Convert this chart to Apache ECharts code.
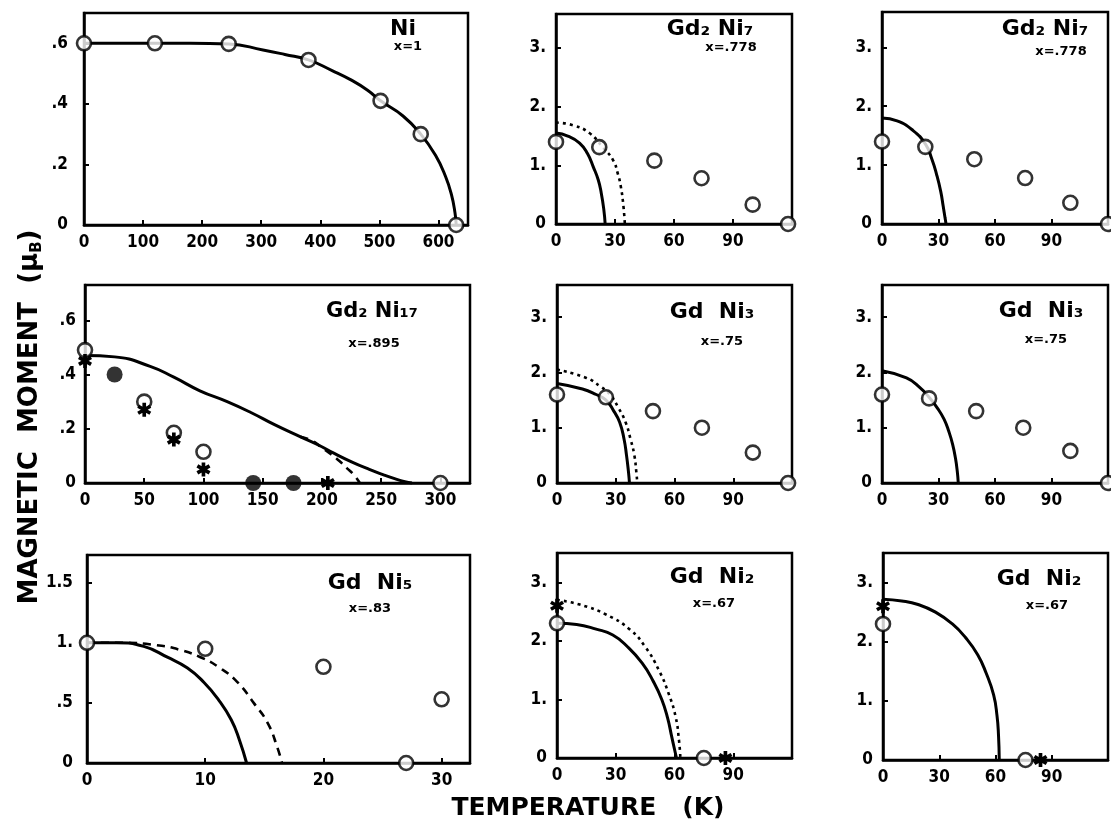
<!DOCTYPE html>
<html>
<head>
<meta charset="utf-8">
<script src="https://cdn.jsdelivr.net/npm/echarts@6/dist/echarts.min.js"></script>
<style>
  html, body { margin: 0; padding: 0; background: #fff; }
  #chart { width: 1111px; height: 824px; }
</style>
</head>
<body>
<div id="chart"></div>
<script>
// ---- tick labels ----
const niTempTicks = [0, 100, 200, 300, 400, 500, 600]
const niMomentTicks = [0, 0.2, 0.4, 0.6]
const niMomentLabels = ['0', '.2', '.4', '.6']
const lowTempTicks = [0, 30, 60, 90]
const bigMomentTicks = [0, 1, 2, 3]
const bigMomentLabels = ['0', '1.', '2.', '3.']
const gd2ni17TempTicks = [0, 50, 100, 150, 200, 250, 300]
const gdni5TempTicks = [0, 10, 20, 30]
const gdni5MomentTicks = [0, 0.5, 1, 1.5]
const gdni5MomentLabels = ['0', '.5', '1.', '1.5']

// ---- Ni, x=1 ----
const niOpen = [[0, 0.6], [120, 0.6], [245, 0.598], [380, 0.545], [502, 0.41], [570, 0.3], [630, 0]]
const niSolid = [[0, 0.6], [60, 0.6], [120, 0.6], [180, 0.6], [245, 0.598], [303, 0.578], [340, 0.563], [380, 0.545],
  [420, 0.51], [451, 0.48], [480, 0.445], [502, 0.41], [540, 0.36], [570, 0.3], [595, 0.23], [612, 0.16],
  [622, 0.1], [628, 0.04], [630, 0]]

// ---- Gd2Ni7, x=.778 (middle) ----
const gd2ni7aOpen = [[0, 1.4], [22, 1.31], [50, 1.08], [74, 0.78], [100, 0.33], [118, 0]]
const gd2ni7aSolid = [[0, 1.55], [6, 1.5], [12, 1.38], [16, 1.2], [19, 0.97], [21.5, 0.75], [23, 0.53], [24.3, 0.25], [25, 0]]
const gd2ni7aDotted = [[0, 1.73], [9, 1.68], [17, 1.55], [24, 1.3], [29, 1.09], [31.5, 0.85], [33, 0.63], [34.3, 0.3], [35, 0]]

// ---- Gd2Ni7, x=.778 (right) ----
const gd2ni7bOpen = [[0, 1.4], [23, 1.31], [49, 1.1], [76, 0.78], [100, 0.36], [120, 0]]
const gd2ni7bSolid = [[0, 1.8], [8, 1.75], [16, 1.6], [23, 1.36], [26.5, 1.1], [29, 0.84], [31.2, 0.55], [32.5, 0.3], [33.5, 0.1], [34, 0]]

// ---- Gd2Ni17, x=.895 ----
const gd2ni17Open = [[0, 0.49], [50, 0.3], [75, 0.185], [100, 0.115], [300, 0]]
const gd2ni17Filled = [[25, 0.4], [142, 0], [176, 0]]
const gd2ni17Star = [[0, 0.45], [50, 0.27], [75, 0.16], [100, 0.05], [205, 0]]
const gd2ni17Solid = [[0, 0.47], [25, 0.465], [55, 0.43], [75, 0.39], [97, 0.34], [120, 0.3], [140, 0.26], [160, 0.215],
  [182, 0.17], [197, 0.14], [210, 0.11], [225, 0.078], [240, 0.05], [252, 0.03], [262, 0.015], [270, 0.005], [276, 0]]
const gd2ni17Dashed = [[182, 0.17], [192, 0.155], [200, 0.13], [208, 0.105], [215, 0.08], [221, 0.055], [227, 0.03], [232, 0]]

// ---- GdNi3, x=.75 (middle) ----
const gdni3aOpen = [[0, 1.6], [25, 1.55], [49, 1.3], [74, 1.0], [100, 0.55], [118, 0]]
const gdni3aSolid = [[0, 1.8], [13, 1.7], [20, 1.6], [25, 1.5], [29, 1.3], [32, 1.1], [34.2, 0.8], [35.5, 0.5], [36.5, 0.2], [37, 0]]
const gdni3aDotted = [[0, 2.05], [15, 1.9], [22, 1.75], [27, 1.6], [31.5, 1.35], [35, 1.1], [37.5, 0.8], [39.5, 0.5], [40.5, 0.2], [41, 0]]

// ---- GdNi3, x=.75 (right) ----
const gdni3bOpen = [[0, 1.6], [25, 1.53], [50, 1.3], [75, 1.0], [100, 0.58], [120, 0]]
const gdni3bSolid = [[0, 2.03], [13, 1.9], [20, 1.73], [25, 1.55], [29.5, 1.35], [33, 1.15], [35.5, 0.93], [37.5, 0.7], [39, 0.45], [40, 0.2], [40.5, 0]]

// ---- GdNi5, x=.83 ----
const gdni5Open = [[0, 1.0], [10, 0.95], [20, 0.8], [30, 0.53], [27, 0]]
const gdni5Solid = [[0, 1.0], [2.5, 1.0], [4.8, 0.97], [6.8, 0.88], [8.5, 0.79], [9.9, 0.67], [11.1, 0.53], [12.2, 0.36], [12.9, 0.19], [13.5, 0]]
const gdni5Dashed = [[0, 1.0], [3, 1.0], [5.9, 0.98], [7.9, 0.94], [9.6, 0.88], [11.1, 0.8], [12.7, 0.675], [14.1, 0.5], [15.3, 0.33], [16.1, 0.13], [16.5, 0]]

// ---- GdNi2, x=.67 (middle) ----
const gdni2aOpen = [[0, 2.3], [75, 0]]
const gdni2aStar = [[0, 2.6], [86, 0]]
const gdni2aSolid = [[0, 2.3], [10, 2.28], [20, 2.2], [28.5, 2.1], [36, 1.9], [43.5, 1.62], [49, 1.32], [53.5, 1.0], [56.5, 0.68], [58.6, 0.36], [60, 0.15], [61, 0]]
const gdni2aDotted = [[0, 2.7], [11.6, 2.62], [25, 2.45], [37, 2.2], [45, 1.9], [52, 1.5], [57, 1.1], [60.6, 0.7], [62.3, 0.3], [63, 0]]

// ---- GdNi2, x=.67 (right) ----
const gdni2bOpen = [[0, 2.3], [76, 0]]
const gdni2bStar = [[0, 2.6], [84, 0]]
const gdni2bSolid = [[0, 2.72], [10, 2.69], [18.7, 2.63], [28, 2.5], [37, 2.3], [44, 2.07], [50.5, 1.78], [55, 1.47], [59, 1.1], [60.8, 0.75], [61.6, 0.42], [62, 0]]

const FONT = '"Liberation Sans Narrow", "DejaVu Sans Condensed", "DejaVu Sans", sans-serif'
// six-armed asterisk
const STAR = 'path://M-2.6,-10 L2.6,-10 L2.6,10 L-2.6,10 Z M7.36,-7.25 L9.96,-2.75 L-7.36,7.25 L-9.96,2.75 Z M9.96,2.75 L7.36,7.25 L-9.96,-2.75 L-7.36,-7.25 Z'

// panel layout (px) and axes
const panels = [
  { grid: { left: 84, top: 13, width: 384, height: 212 }, xMax: 650, xInt: 100, xTicks: niTempTicks,
    yMax: 0.7, yInt: 0.2, yTicks: niMomentTicks, yLabels: niMomentLabels, yMargin: 16 },
  { grid: { left: 556, top: 14, width: 236, height: 210 }, xMax: 120, xInt: 30, xTicks: lowTempTicks,
    yMax: 3.58, yInt: 1, yTicks: bigMomentTicks, yLabels: bigMomentLabels, yMargin: 10 },
  { grid: { left: 882, top: 12, width: 238, height: 212 }, xMax: 120, xInt: 30, xTicks: lowTempTicks,
    yMax: 3.6, yInt: 1, yTicks: bigMomentTicks, yLabels: bigMomentLabels, yMargin: 10 },
  { grid: { left: 85, top: 285, width: 385, height: 198 }, xMax: 325, xInt: 50, xTicks: gd2ni17TempTicks,
    yMax: 0.73, yInt: 0.2, yTicks: niMomentTicks, yLabels: niMomentLabels, yMargin: 9 },
  { grid: { left: 557, top: 285, width: 235, height: 198 }, xMax: 120, xInt: 30, xTicks: lowTempTicks,
    yMax: 3.58, yInt: 1, yTicks: bigMomentTicks, yLabels: bigMomentLabels, yMargin: 10 },
  { grid: { left: 882, top: 285, width: 238, height: 198 }, xMax: 120, xInt: 30, xTicks: lowTempTicks,
    yMax: 3.58, yInt: 1, yTicks: bigMomentTicks, yLabels: bigMomentLabels, yMargin: 10 },
  { grid: { left: 87, top: 555, width: 383, height: 208 }, xMax: 32.4, xInt: 10, xTicks: gdni5TempTicks,
    yMax: 1.73, yInt: 0.5, yTicks: gdni5MomentTicks, yLabels: gdni5MomentLabels, yMargin: 14 },
  { grid: { left: 557, top: 553, width: 235, height: 205 }, xMax: 120, xInt: 30, xTicks: lowTempTicks,
    yMax: 3.5, yInt: 1, yTicks: bigMomentTicks, yLabels: bigMomentLabels, yMargin: 10 },
  { grid: { left: 883, top: 553, width: 237, height: 207 }, xMax: 120, xInt: 30, xTicks: lowTempTicks,
    yMax: 3.5, yInt: 1, yTicks: bigMomentTicks, yLabels: bigMomentLabels, yMargin: 10 }
]

const pickLabel = (ticks, labels) => v => {
  const i = ticks.findIndex(t => Math.abs(t - v) < 1e-6)
  return i < 0 ? '' : labels[i]
}

const axisBase = {
  type: 'value',
  min: 0,
  axisLine: { show: true, onZero: false, lineStyle: { color: '#000', width: 2.5 } },
  axisTick: { show: true, inside: true, length: 5, lineStyle: { color: '#000', width: 2 } },
  splitLine: { show: false }
}

const grids = panels.map(p => ({ ...p.grid, show: true, borderColor: '#000', borderWidth: 2.5, containLabel: false }))
const xAxes = panels.map((p, i) => ({
  ...axisBase, gridIndex: i, max: p.xMax, interval: p.xInt,
  axisLabel: { margin: 9, color: '#000', fontFamily: FONT, fontWeight: 'bold', fontSize: 17,
    formatter: pickLabel(p.xTicks, p.xTicks.map(String)) }
}))
const yAxes = panels.map((p, i) => ({
  ...axisBase, gridIndex: i, max: p.yMax, interval: p.yInt,
  axisLabel: { margin: p.yMargin, color: '#000', fontFamily: FONT, fontWeight: 'bold', fontSize: 17,
    formatter: pickLabel(p.yTicks, p.yLabels) }
}))

// series helpers
const curve = (i, data, type) => ({
  type: 'line', xAxisIndex: i, yAxisIndex: i, data, showSymbol: false, smooth: 0.5,
  clip: false, z: 3, lineStyle: { color: '#000', width: type === 'solid' ? 3 : 2.6, type }
})
const openPts = (i, data) => ({
  type: 'scatter', xAxisIndex: i, yAxisIndex: i, data, symbol: 'circle', symbolSize: 14,
  clip: false, z: 6, itemStyle: { color: '#fff', borderColor: '#000', borderWidth: 2.6 }
})
const filledPts = (i, data) => ({
  type: 'scatter', xAxisIndex: i, yAxisIndex: i, data, symbol: 'circle', symbolSize: 16,
  clip: false, z: 6, itemStyle: { color: '#000' }
})
const starPts = (i, data) => ({
  type: 'scatter', xAxisIndex: i, yAxisIndex: i, data, symbol: STAR, symbolSize: 14,
  clip: false, z: 7, itemStyle: { color: '#000', opacity: 1 }
})

const DOT = [3, 4]
const DASH = [8, 6]

const series = [
  curve(0, niSolid, 'solid'), openPts(0, niOpen),
  curve(1, gd2ni7aSolid, 'solid'), curve(1, gd2ni7aDotted, DOT), openPts(1, gd2ni7aOpen),
  curve(2, gd2ni7bSolid, 'solid'), openPts(2, gd2ni7bOpen),
  curve(3, gd2ni17Solid, 'solid'), curve(3, gd2ni17Dashed, DASH),
  openPts(3, gd2ni17Open), filledPts(3, gd2ni17Filled), starPts(3, gd2ni17Star),
  curve(4, gdni3aSolid, 'solid'), curve(4, gdni3aDotted, DOT), openPts(4, gdni3aOpen),
  curve(5, gdni3bSolid, 'solid'), openPts(5, gdni3bOpen),
  curve(6, gdni5Solid, 'solid'), curve(6, gdni5Dashed, DASH), openPts(6, gdni5Open),
  curve(7, gdni2aSolid, 'solid'), curve(7, gdni2aDotted, DOT), starPts(7, gdni2aStar), openPts(7, gdni2aOpen),
  curve(8, gdni2bSolid, 'solid'), starPts(8, gdni2bStar), openPts(8, gdni2bOpen)
]

// panel captions
const TFONT = '"DejaVu Sans", sans-serif'
const caption = (x, y, text, size) => ({
  type: 'text', x, y, z: 10,
  style: { text, fill: '#000', font: `bold ${size}px ${TFONT}`, align: 'center', verticalAlign: 'middle' }
})
const captions = [
  caption(403, 29, 'Ni', 22), caption(408, 47, 'x=1', 13),
  caption(710, 29, 'Gd₂ Ni₇', 22), caption(731, 48, 'x=.778', 13),
  caption(1045, 29, 'Gd₂ Ni₇', 22), caption(1061, 52, 'x=.778', 13),
  caption(372, 312, 'Gd₂ Ni₁₇', 21), caption(374, 344, 'x=.895', 13),
  caption(712, 312, 'Gd  Ni₃', 22), caption(722, 342, 'x=.75', 13),
  caption(1041, 311, 'Gd  Ni₃', 22), caption(1046, 340, 'x=.75', 13),
  caption(370, 583, 'Gd  Ni₅', 22), caption(370, 609, 'x=.83', 13),
  caption(712, 577, 'Gd  Ni₂', 22), caption(714, 604, 'x=.67', 13),
  caption(1039, 579, 'Gd  Ni₂', 22), caption(1047, 606, 'x=.67', 13)
]

const axisTitles = [
  { type: 'text', x: 588, y: 808, z: 10,
    style: { text: 'TEMPERATURE   (K)', fill: '#000', font: `bold 25px ${TFONT}`, align: 'center', verticalAlign: 'middle' } },
  { type: 'text', x: 30, y: 417, rotation: Math.PI / 2, z: 10,
    style: {
      text: '{a|MAGNETIC  MOMENT  (μ}{b|B}{a|)}', align: 'center', verticalAlign: 'middle',
      rich: {
        a: { fontFamily: TFONT, fontWeight: 'bold', fontSize: 26, lineHeight: 30, fill: '#000' },
        b: { fontFamily: TFONT, fontWeight: 'bold', fontSize: 15, lineHeight: 14, verticalAlign: 'bottom', fill: '#000' }
      }
    } }
]

const chart = echarts.init(document.getElementById('chart'))
chart.setOption({
  animation: false,
  backgroundColor: '#fff',
  grid: grids,
  xAxis: xAxes,
  yAxis: yAxes,
  series,
  graphic: [...captions, ...axisTitles]
})
</script>
</body>
</html>
